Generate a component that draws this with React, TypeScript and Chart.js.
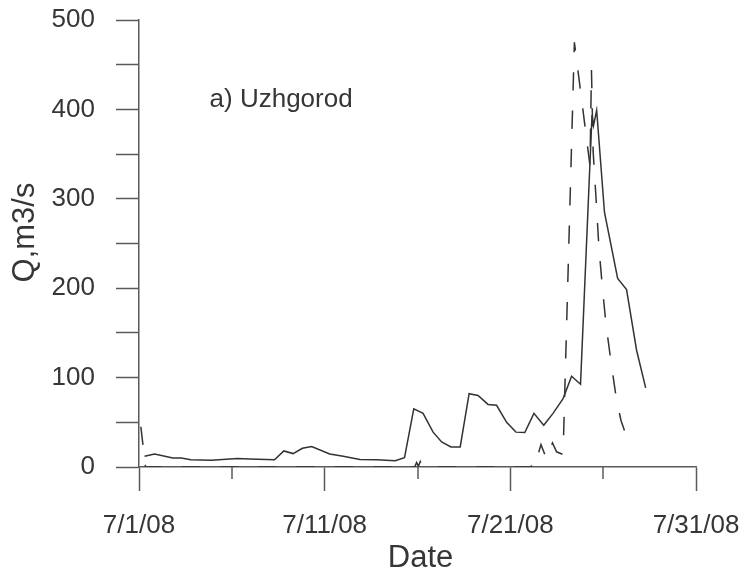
import React, { useEffect, useRef } from 'react';
import { Chart, registerables } from 'chart.js';

Chart.register(...registerables);

// ---- data (x = days since 7/1/08, y = discharge m3/s) ----
const dateTickLabels = ['7/1/08', '7/11/08', '7/21/08', '7/31/08'];

const observedDays = [
  0.3, 0.84, 1.82, 2.27, 2.8, 3.9, 5.3, 5.96, 7.3, 7.8, 8.3, 8.8, 9.3, 10.27, 11.0, 11.9, 12.8,
  13.8, 14.3, 14.8, 15.3, 15.84, 16.3, 16.8, 17.3, 17.78, 18.26, 18.8, 19.26, 19.8, 20.3, 20.78,
  21.27, 21.8, 22.3, 22.84, 23.3, 23.78, 24.4, 24.48, 24.65, 25.07, 25.78, 26.26, 26.8, 27.29,
];
const observedQ = [
  12, 14.5, 10, 10, 8, 7.5, 9.5, 9, 8, 18, 15, 21, 23, 14.5, 12, 8.5, 8,
  7, 10.5, 65, 60, 39, 28, 22.5, 22.5, 82, 80, 70, 69, 50, 39, 38.5,
  60, 46.7, 60, 76.5, 101.5, 92.6, 394, 382, 399, 285, 211, 198.5, 130.6, 88.5,
];

const simulatedDays = [
  0.1, 0.35, 14.85, 14.95, 15.05, 15.15, 15.25, 21.1, 21.2, 21.3, 21.65, 21.95, 22.27, 22.49,
  22.84, 23.45, 24.29, 24.37, 24.46, 24.65, 24.77, 24.95, 25.15, 25.42, 25.72, 25.96, 26.26,
];
const simulatedQ = [
  45, 0, 0, 5, 1, 6, 0, 0, 3, 0, 25, 9, 27, 17,
  14, 475, 337, 444, 353, 289, 246, 203, 160, 118, 75, 52, 34,
];

const stationLabel = 'a) Uzhgorod';
const xTitle = 'Date';
const yTitle = 'Q,m3/s';

// ---- styles ----
const FONT_FAMILY = '"Liberation Sans", Arial, Helvetica, sans-serif';
const TEXT_COLOR = '#363636';
const AXIS_COLOR = '#5a5a5a';
const LINE_COLOR = '#333333';

const annotatePlugin = {
  id: 'annotate',
  afterDraw(chart: any) {
    const { ctx, chartArea, scales } = chart;
    const xs = scales.x;
    const ys = scales.y;
    ctx.save();
    // minor x ticks (shorter)
    ctx.strokeStyle = AXIS_COLOR;
    ctx.lineWidth = 1.5;
    xs.ticks.forEach((t: any) => {
      if (t.value % 10 !== 0) {
        const px = Math.round(xs.getPixelForValue(t.value));
        ctx.beginPath();
        ctx.moveTo(px, chartArea.bottom);
        ctx.lineTo(px, chartArea.bottom + 12);
        ctx.stroke();
      }
    });
    ctx.fillStyle = TEXT_COLOR;
    // station annotation
    ctx.font = `26px ${FONT_FAMILY}`;
    ctx.textAlign = 'left';
    ctx.textBaseline = 'alphabetic';
    ctx.fillText(stationLabel, xs.getPixelForValue(3.8), ys.getPixelForValue(403));
    // x title
    ctx.font = `31px ${FONT_FAMILY}`;
    ctx.textAlign = 'center';
    ctx.fillText(xTitle, (chartArea.left + chartArea.right) / 2 + 3, 567);
    // y title
    ctx.translate(34, (chartArea.top + chartArea.bottom) / 2 - 11);
    ctx.rotate(-Math.PI / 2);
    ctx.textAlign = 'center';
    ctx.textBaseline = 'alphabetic';
    ctx.fillText(yTitle, 0, 0);
    ctx.restore();
  },
};

export default function App() {
  const canvasRef = useRef<HTMLCanvasElement | null>(null);

  useEffect(() => {
    const canvas = canvasRef.current;
    if (!canvas) return;
    const observed = observedDays.map((d, i) => ({ x: d, y: observedQ[i] }));
    const simulated = simulatedDays.map((d, i) => ({ x: d, y: simulatedQ[i] }));

    const chart = new Chart(canvas, {
      type: 'line',
      data: {
        datasets: [
          {
            label: 'observed',
            data: observed,
            borderColor: LINE_COLOR,
            borderWidth: 1.5,
            pointRadius: 0,
            tension: 0,
            fill: false,
          },
          {
            label: 'simulated',
            data: simulated,
            borderColor: LINE_COLOR,
            borderWidth: 1.5,
            borderDash: [18.3, 20],
            pointRadius: 0,
            tension: 0,
            fill: false,
          },
        ],
      },
      options: {
        responsive: false,
        animation: false,
        devicePixelRatio: 1,
        layout: { padding: { top: 20, right: 46, left: 0, bottom: 0 } },
        plugins: {
          legend: { display: false },
          tooltip: { enabled: false },
          title: { display: false },
        },
        font: { family: FONT_FAMILY, size: 26 },
        scales: {
          x: {
            type: 'linear',
            min: 0,
            max: 30,
            afterFit(scale: any) {
              scale.height = 104;
              scale.paddingLeft = 0;
              scale.paddingRight = 0;
            },
            border: { display: true, color: AXIS_COLOR, width: 1.5 },
            grid: {
              drawOnChartArea: false,
              drawTicks: true,
              tickLength: 24,
              tickWidth: 1.5,
              tickColor: (ctx: any) =>
                ctx.tick && ctx.tick.value % 10 === 0 ? AXIS_COLOR : 'rgba(0,0,0,0)',
            },
            ticks: {
              stepSize: 5,
              autoSkip: false,
              maxRotation: 0,
              padding: 19,
              color: TEXT_COLOR,
              font: { family: FONT_FAMILY, size: 26 },
              callback: (v: any) => (Number(v) % 10 === 0 ? dateTickLabels[Number(v) / 10] : ''),
            },
          },
          y: {
            type: 'linear',
            min: 0,
            max: 500,
            afterFit(scale: any) {
              scale.width = 139;
              scale.paddingTop = 0;
              scale.paddingBottom = 0;
            },
            border: { display: true, color: AXIS_COLOR, width: 1.5 },
            grid: {
              drawOnChartArea: false,
              drawTicks: true,
              tickLength: 23,
              tickWidth: 1.5,
              tickColor: AXIS_COLOR,
            },
            ticks: {
              stepSize: 50,
              autoSkip: false,
              padding: 21,
              color: TEXT_COLOR,
              font: { family: FONT_FAMILY, size: 26 },
              callback: (v: any) => (Number(v) % 100 === 0 ? String(v) : ''),
            },
          },
        },
      },
      plugins: [annotatePlugin],
    } as any);

    return () => chart.destroy();
  }, []);

  return (
    <div style={{ position: 'fixed', left: 0, top: 0, width: 742, height: 571, background: '#fff' }}>
      <canvas ref={canvasRef} width={742} height={571} style={{ display: 'block' }} />
    </div>
  );
}
